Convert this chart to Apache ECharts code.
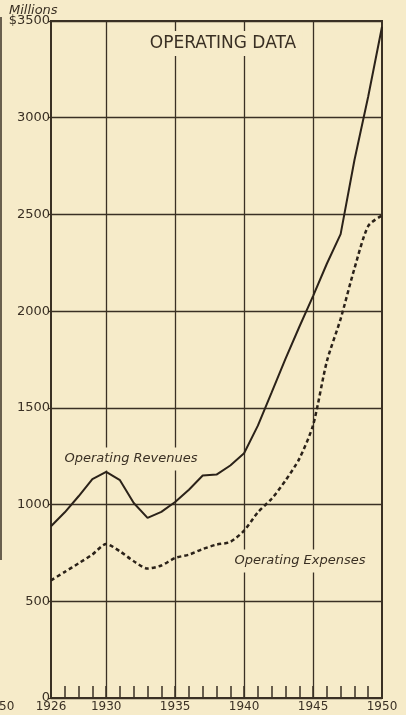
<!DOCTYPE html>
<html>
<head>
<meta charset="utf-8">
<style>
  html, body { margin: 0; padding: 0; background: #f6ebc9; }
  #main { width: 406px; height: 715px; }
</style>
<script src="https://cdn.jsdelivr.net/npm/echarts@6/dist/echarts.min.js"></script>
</head>
<body>
<div id="main"></div>
<script>
"use strict";
var years = ['1926', '1927', '1928', '1929', '1930', '1931', '1932', '1933', '1934', '1935',
    '1936', '1937', '1938', '1939', '1940', '1941', '1942', '1943', '1944', '1945',
    '1946', '1947', '1948', '1949', '1950'];
// millions of dollars
var revenues = [888, 960, 1043, 1132, 1169, 1126, 1008, 931, 962, 1013,
    1077, 1150, 1155, 1202, 1265, 1408, 1580, 1753, 1918, 2078,
    2245, 2398, 2780, 3110, 3470];
var expenses = [608, 652, 696, 742, 796, 758, 707, 669, 685, 724,
    741, 770, 793, 807, 865, 960, 1030, 1124, 1236, 1410,
    1740, 1960, 2220, 2440, 2495];
var labelYears = ['1926', '1930', '1935', '1940', '1945', '1950'];
var gridYears = ['1930', '1935', '1940', '1945'];

var ink = '#3a3024';
var paper = '#f6ebc9';
var font = 'DejaVu Sans';

var myChart = echarts.init(document.getElementById('main'));

myChart.setOption({
    backgroundColor: paper,
    animation: false,
    title: {
        text: 'OPERATING DATA',
        left: 217,
        top: 31,
        textAlign: 'center',
        backgroundColor: paper,
        padding: [4, 6],
        textStyle: { fontFamily: font, fontSize: 17, fontWeight: 'normal', color: ink }
    },
    grid: {
        left: 51, right: 24, top: 21, bottom: 17,
        show: true, borderColor: ink, borderWidth: 2, backgroundColor: 'transparent'
    },
    xAxis: {
        type: 'category',
        data: years,
        boundaryGap: false,
        axisLine: { lineStyle: { color: ink, width: 2 } },
        axisTick: {
            inside: true, length: 12, interval: 0,
            lineStyle: { color: ink, width: 1.5 }
        },
        axisLabel: {
            interval: function (i, v) { return labelYears.indexOf(v) >= 0; },
            margin: 3,
            fontFamily: font, fontSize: 12, color: ink
        },
        splitLine: {
            show: true,
            interval: function (i, v) { return gridYears.indexOf(v) >= 0; },
            lineStyle: { color: ink, width: 1.3 }
        }
    },
    yAxis: {
        type: 'value',
        min: 0, max: 3500, interval: 500,
        axisLine: { show: true, lineStyle: { color: ink, width: 2 } },
        axisTick: { show: true, length: 3, lineStyle: { color: ink, width: 1.2 } },
        axisLabel: {
            margin: 1,
            fontFamily: font, fontSize: 13, color: ink,
            formatter: function (v) { return v === 3500 ? '$3500' : String(v); }
        },
        splitLine: { lineStyle: { color: ink, width: 1.3 } }
    },
    series: [
        {
            name: 'Operating Revenues',
            type: 'line',
            data: revenues,
            symbol: 'none',
            lineStyle: { color: '#2b2219', width: 2 },
            z: 5
        },
        {
            name: 'Operating Expenses',
            type: 'line',
            data: expenses,
            symbol: 'none',
            smooth: 0.25,
            lineStyle: { color: '#2b2219', width: 2.5, type: [4, 3] },
            z: 5
        }
    ],
    graphic: [
        {
            type: 'text', left: 9, top: 4,
            style: { text: 'Millions', fontFamily: font, fontStyle: 'italic', fontSize: 13, fill: ink }
        },
        {
            type: 'text', x: 131, y: 459, z: 10,
            style: {
                text: 'Operating Revenues', align: 'center', verticalAlign: 'middle',
                fontFamily: font, fontStyle: 'italic', fontSize: 13, fill: ink,
                backgroundColor: paper, padding: [5, 2]
            }
        },
        {
            type: 'text', x: 300, y: 561, z: 10,
            style: {
                text: 'Operating Expenses', align: 'center', verticalAlign: 'middle',
                fontFamily: font, fontStyle: 'italic', fontSize: 13, fill: ink,
                backgroundColor: paper, padding: [5, 2]
            }
        },
        {
            type: 'text', x: -1, y: 701,
            style: { text: '50', fontFamily: font, fontSize: 12, fill: ink }
        },
        {
            type: 'line', shape: { x1: 1, y1: 17, x2: 1, y2: 560 },
            style: { stroke: ink, lineWidth: 1.5 }
        }
    ]
});
</script>
</body>
</html>
